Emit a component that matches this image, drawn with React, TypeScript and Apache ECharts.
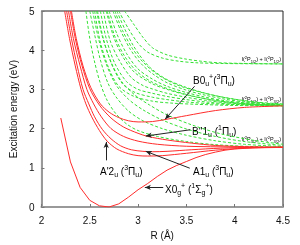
import React, { useEffect, useRef } from "react";
import * as echarts from "echarts";

const FONT = "'Liberation Sans', Arial, Helvetica, sans-serif";

// Axis ranges / ticks
const xRange = [2, 4.5];
const yRange = [0, 5];

// Red (solid) potential curves: [R (Å), E (eV)]
const X0g = [[2.2, 2.27], [2.3, 1.15], [2.4, 0.5], [2.5, 0.17], [2.6, 0.03], [2.7, 0.0], [2.8, 0.08], [2.9, 0.25], [3.0, 0.44], [3.1, 0.6], [3.2, 0.78], [3.3, 0.94], [3.4, 1.06], [3.5, 1.16], [3.6, 1.26], [3.7, 1.34], [3.8, 1.4], [3.9, 1.45], [4.0, 1.48], [4.2, 1.51], [4.5, 1.53]];
const A2u = [[2.24, 5], [2.29, 4.3], [2.35, 3.6], [2.41, 3.0], [2.46, 2.63], [2.52, 2.3], [2.6, 1.95], [2.68, 1.68], [2.78, 1.48], [2.9, 1.36], [3.0, 1.31], [3.1, 1.3], [3.25, 1.31], [3.5, 1.37], [3.8, 1.45], [4.1, 1.5], [4.5, 1.52]];
const A1u = [[2.26, 5], [2.31, 4.3], [2.37, 3.6], [2.43, 3.0], [2.49, 2.63], [2.55, 2.3], [2.63, 1.98], [2.72, 1.74], [2.82, 1.56], [2.93, 1.46], [3.05, 1.42], [3.15, 1.41], [3.3, 1.42], [3.55, 1.46], [3.85, 1.5], [4.2, 1.52], [4.5, 1.52]];
const Cred = [[2.28, 5], [2.33, 4.3], [2.4, 3.6], [2.47, 3.0], [2.54, 2.63], [2.62, 2.3], [2.72, 2.0], [2.85, 1.8], [3.0, 1.68], [3.2, 1.6], [3.5, 1.55], [4.0, 1.53], [4.5, 1.52]];
const Bpp1u = [[2.3, 5], [2.35, 4.3], [2.42, 3.6], [2.5, 3.02], [2.6, 2.6], [2.72, 2.27], [2.85, 2.04], [3.0, 1.88], [3.1, 1.8], [3.3, 1.71], [3.55, 1.63], [3.8, 1.57], [4.1, 1.54], [4.5, 1.52]];
const B0u = [[2.31, 5], [2.36, 4.3], [2.43, 3.6], [2.51, 3.05], [2.61, 2.63], [2.7, 2.42], [2.8, 2.28], [2.9, 2.2], [3.0, 2.17], [3.15, 2.18], [3.3, 2.24], [3.5, 2.33], [3.8, 2.46], [4.1, 2.54], [4.5, 2.58]];

// Green (dashed) curves
const T1 = [[2.86, 5], [2.95, 4.68], [3.05, 4.33], [3.15, 4.06], [3.3, 3.88], [3.48, 3.78], [3.65, 3.72], [3.83, 3.68], [4.16, 3.66], [4.5, 3.65]];
const T2 = [[2.8, 5], [2.9, 4.55], [3.0, 4.18], [3.1, 3.95], [3.25, 3.8], [3.42, 3.72], [3.6, 3.68], [3.9, 3.66], [4.5, 3.65]];
const M1 = [[2.78, 5], [2.86, 4.55], [2.95, 4.12], [3.05, 3.76], [3.15, 3.5], [3.3, 3.25], [3.5, 3.05], [3.7, 2.9], [3.9, 2.79], [4.1, 2.71], [4.3, 2.65], [4.5, 2.62]];
const M2 = [[2.74, 5], [2.82, 4.5], [2.92, 4.02], [3.03, 3.66], [3.15, 3.4], [3.3, 3.17], [3.5, 2.98], [3.7, 2.85], [3.9, 2.75], [4.1, 2.68], [4.3, 2.64], [4.5, 2.61]];
const M3 = [[2.7, 5], [2.78, 4.42], [2.88, 3.92], [3.0, 3.52], [3.15, 3.26], [3.3, 3.08], [3.5, 2.92], [3.7, 2.8], [3.9, 2.71], [4.1, 2.66], [4.3, 2.62], [4.5, 2.6]];
const M4 = [[2.67, 5], [2.75, 4.32], [2.85, 3.8], [2.97, 3.42], [3.15, 3.14], [3.3, 3.0], [3.5, 2.86], [3.7, 2.76], [3.9, 2.68], [4.2, 2.62], [4.5, 2.6]];
const M5 = [[2.64, 5], [2.71, 4.25], [2.81, 3.72], [2.93, 3.3], [3.05, 3.1], [3.15, 3.01], [3.3, 2.9], [3.5, 2.8], [3.7, 2.72], [3.9, 2.66], [4.2, 2.61], [4.5, 2.59]];
const M6 = [[2.61, 5], [2.67, 4.3], [2.76, 3.66], [2.88, 3.2], [3.0, 3.0], [3.15, 2.9], [3.3, 2.82], [3.5, 2.74], [3.7, 2.68], [4.0, 2.62], [4.5, 2.59]];
const M7 = [[2.58, 5], [2.64, 4.3], [2.73, 3.62], [2.84, 3.14], [2.97, 2.92], [3.15, 2.8], [3.3, 2.74], [3.5, 2.68], [3.8, 2.63], [4.5, 2.58]];
const M8 = [[2.55, 5], [2.61, 4.2], [2.7, 3.52], [2.8, 3.08], [2.95, 2.83], [3.15, 2.7], [3.35, 2.65], [3.6, 2.62], [4.0, 2.59], [4.5, 2.58]];
const M9 = [[2.76, 5], [2.84, 4.5], [2.94, 4.05], [3.05, 3.7], [3.2, 3.38], [3.4, 3.12], [3.6, 2.96], [3.8, 2.84], [4.0, 2.75], [4.25, 2.67], [4.5, 2.63]];
const M10 = [[2.68, 5], [2.76, 4.35], [2.86, 3.85], [2.99, 3.45], [3.15, 3.18], [3.35, 2.98], [3.55, 2.84], [3.75, 2.74], [4.0, 2.66], [4.25, 2.62], [4.5, 2.6]];
const L1 = [[2.46, 5], [2.5, 4.3], [2.55, 3.7], [2.61, 3.15], [2.68, 2.72], [2.77, 2.38], [2.88, 2.12], [3.0, 1.95], [3.2, 1.8], [3.5, 1.67], [3.8, 1.59], [4.2, 1.54], [4.5, 1.53]];
const L2 = [[2.5, 5], [2.55, 4.4], [2.61, 3.75], [2.69, 3.15], [2.78, 2.78], [2.9, 2.45], [3.05, 2.2], [3.25, 2.0], [3.5, 1.83], [3.8, 1.69], [4.1, 1.6], [4.5, 1.54]];
const L3 = [[2.53, 5], [2.59, 4.3], [2.67, 3.65], [2.77, 3.12], [2.9, 2.75], [3.05, 2.48], [3.25, 2.22], [3.5, 1.99], [3.8, 1.8], [4.1, 1.67], [4.5, 1.57]];
const L4 = [[2.57, 5], [2.63, 4.35], [2.72, 3.7], [2.83, 3.2], [2.97, 2.85], [3.12, 2.6], [3.3, 2.35], [3.55, 2.1], [3.85, 1.87], [4.2, 1.7], [4.5, 1.6]];

const redCurves = [X0g, A2u, A1u, Cred, Bpp1u, B0u];
const greenCurves = [T1, T2, M1, M2, M3, M4, M5, M6, M7, M8, M9, M10, L1, L2, L3, L4];

// Annotation arrows in data coordinates: [from, to]
const arrows = [
  [[3.585, 3.08], [3.28, 2.24]],
  [[3.54, 1.97], [3.08, 1.81]],
  [[3.535, 0.99], [3.08, 1.42]],
  [[3.26, 0.5], [3.07, 0.5]],
  [[2.67, 1.19], [2.67, 1.66]],
];

const richStyles = {
  b: { fontSize: 10, fontFamily: FONT, color: "#111", lineHeight: 14 },
  sup: { fontSize: 7, fontFamily: FONT, color: "#111", verticalAlign: "top" },
  sub: { fontSize: 7, fontFamily: FONT, color: "#111", verticalAlign: "bottom" },
};
const smallRich = {
  b: { fontSize: 5.5, fontFamily: FONT, color: "#333", lineHeight: 8 },
  sup: { fontSize: 4, fontFamily: FONT, color: "#333", verticalAlign: "top" },
  sub: { fontSize: 4, fontFamily: FONT, color: "#333", verticalAlign: "bottom" },
};

const stateLabels = [
  { x: 193, y: 80, text: "{b|B0}{sub|u}{sup|+}{b|(}{sup|3}{b|Π}{sub|u}{b|)}" },
  { x: 192, y: 131, text: "{b|B''1}{sub|u}{b| (}{sup|1}{b|Π}{sub|u}{b|)}" },
  { x: 193, y: 171, text: "{b|A1}{sub|u}{b| (}{sup|3}{b|Π}{sub|u}{b|)}" },
  { x: 165, y: 189, text: "{b|X0}{sub|g}{sup|+}{b| (}{sup|1}{b|Σ}{sub|g}{sup|+}{b|)}" },
  { x: 100, y: 171, text: "{b|A'2}{sub|u}{b| (}{sup|3}{b|Π}{sub|u}{b|)}" },
];
const asymLabels = [
  { y: 59, text: "{b|I(}{sup|2}{b|P}{sub|1/2}{b|) + I(}{sup|2}{b|P}{sub|1/2}{b|)}" },
  { y: 99, text: "{b|I(}{sup|2}{b|P}{sub|1/2}{b|) + I(}{sup|2}{b|P}{sub|3/2}{b|)}" },
  { y: 139, text: "{b|I(}{sup|2}{b|P}{sub|3/2}{b|) + I(}{sup|2}{b|P}{sub|3/2}{b|)}" },
];

export default function App() {
  const ref = useRef<HTMLDivElement>(null);
  useEffect(() => {
    if (!ref.current) return;
    const chart = echarts.init(ref.current, undefined, { renderer: "svg" });
    const series: any[] = [];
    greenCurves.forEach((d) =>
      series.push({
        type: "line",
        data: d,
        showSymbol: false,
        smooth: 0.3,
        silent: true,
        lineStyle: { color: "#33e033", width: 1, type: [3, 2] },
      })
    );
    redCurves.forEach((d, i) =>
      series.push({
        type: "line",
        data: d,
        showSymbol: false,
        smooth: i === 0 ? false : 0.3,
        silent: true,
        lineStyle: { color: "#ff2b2b", width: 1 },
        markLine:
          i === 0
            ? {
                silent: true,
                symbol: ["none", "arrow"],
                symbolSize: [4, 6],
                label: { show: false },
                lineStyle: { color: "#222", width: 1, type: "solid" },
                data: arrows.map((a) => [{ coord: a[0] }, { coord: a[1] }]),
              }
            : undefined,
      })
    );
    chart.setOption({
      animation: false,
      grid: { left: 37, right: 17, top: 11, bottom: 36, show: true, borderColor: "#222", borderWidth: 1 },
      xAxis: {
        type: "value",
        min: xRange[0],
        max: xRange[1],
        interval: 0.5,
        name: "R (Å)",
        nameLocation: "middle",
        nameGap: 23,
        nameTextStyle: { fontSize: 10, fontFamily: FONT, color: "#111" },
        axisLine: { lineStyle: { color: "#999", width: 2 } },
        axisTick: { inside: true, length: 3, lineStyle: { color: "#777" } },
        axisLabel: { fontSize: 10, fontFamily: FONT, color: "#111", margin: 8 },
        splitLine: { show: false },
      },
      yAxis: {
        type: "value",
        min: yRange[0],
        max: yRange[1],
        interval: 1,
        name: "Excitation energy (eV)",
        nameLocation: "middle",
        nameGap: 21,
        nameTextStyle: { fontSize: 10, fontFamily: FONT, color: "#111" },
        axisLine: { lineStyle: { color: "#999", width: 2 } },
        axisTick: { inside: true, length: 3, lineStyle: { color: "#777" } },
        axisLabel: { fontSize: 10, fontFamily: FONT, color: "#111", margin: 7 },
        splitLine: { show: false },
      },
      series,
      graphic: [
        ...stateLabels.map((l) => ({
          type: "text",
          x: l.x,
          y: l.y,
          silent: true,
          style: { text: l.text, rich: richStyles, align: "left", verticalAlign: "middle" },
        })),
        ...asymLabels.map((l) => ({
          type: "text",
          x: 281,
          y: l.y,
          silent: true,
          style: { text: l.text, rich: smallRich, align: "right", verticalAlign: "middle" },
        })),
      ],
    });
    return () => chart.dispose();
  }, []);
  return <div ref={ref} style={{ position: "fixed", left: 0, top: 0, width: 300, height: 245 }} />;
}
